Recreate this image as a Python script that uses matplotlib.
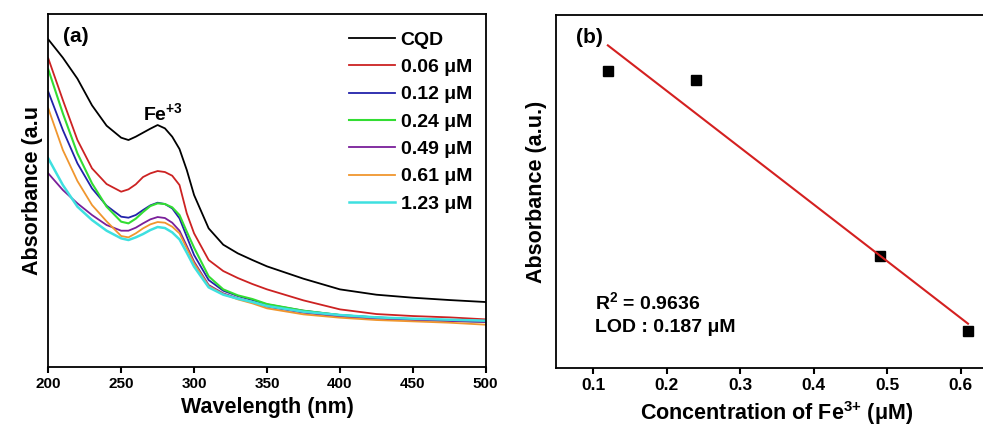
import matplotlib
matplotlib.use('Agg')
import matplotlib.pyplot as plt
import numpy as np

plt.rcParams['font.family'] = ['Liberation Sans', 'DejaVu Sans']
plt.rcParams['font.weight'] = 'bold'
plt.rcParams['mathtext.fontset'] = 'custom'
plt.rcParams['mathtext.bf'] = 'Liberation Sans:bold'
plt.rcParams['mathtext.rm'] = 'Liberation Sans:bold'

# ---------------- data, panel (a) ----------------
wavelength = [200, 210, 220, 230, 240, 250, 255, 260, 265, 270, 275, 280, 285, 290,
              295, 300, 310, 320, 330, 340, 350, 375, 400, 425, 450, 475, 500]

abs_cqd = [0.982, 0.927, 0.864, 0.784, 0.723, 0.687, 0.680, 0.690, 0.702, 0.714, 0.725, 0.715, 0.690, 0.653,
           0.590, 0.515, 0.415, 0.366, 0.340, 0.320, 0.301, 0.264, 0.232, 0.216, 0.207, 0.200, 0.194]
abs_006 = [0.925, 0.800, 0.680, 0.595, 0.548, 0.525, 0.532, 0.547, 0.569, 0.580, 0.587, 0.584, 0.573, 0.545,
           0.460, 0.400, 0.320, 0.287, 0.266, 0.248, 0.232, 0.199, 0.172, 0.158, 0.152, 0.148, 0.142]
abs_012 = [0.825, 0.710, 0.610, 0.535, 0.483, 0.450, 0.447, 0.455, 0.470, 0.484, 0.492, 0.488, 0.475, 0.445,
           0.390, 0.335, 0.260, 0.228, 0.212, 0.200, 0.187, 0.168, 0.155, 0.148, 0.143, 0.140, 0.137]
abs_024 = [0.892, 0.760, 0.640, 0.550, 0.480, 0.435, 0.430, 0.444, 0.464, 0.482, 0.490, 0.488, 0.478, 0.455,
           0.405, 0.357, 0.271, 0.232, 0.214, 0.203, 0.188, 0.168, 0.155, 0.147, 0.142, 0.138, 0.135]
abs_049 = [0.580, 0.530, 0.490, 0.455, 0.425, 0.408, 0.408, 0.417, 0.430, 0.442, 0.449, 0.446, 0.432, 0.408,
           0.362, 0.315, 0.245, 0.220, 0.205, 0.193, 0.180, 0.162, 0.150, 0.144, 0.140, 0.137, 0.134]
abs_061 = [0.775, 0.650, 0.557, 0.485, 0.436, 0.392, 0.388, 0.400, 0.415, 0.427, 0.434, 0.432, 0.420, 0.400,
           0.355, 0.310, 0.242, 0.218, 0.202, 0.190, 0.175, 0.157, 0.147, 0.140, 0.136, 0.132, 0.126]
abs_123 = [0.625, 0.545, 0.480, 0.440, 0.408, 0.385, 0.380, 0.388, 0.398, 0.410, 0.419, 0.416, 0.403, 0.382,
           0.342, 0.300, 0.238, 0.216, 0.204, 0.194, 0.182, 0.165, 0.155, 0.148, 0.144, 0.141, 0.138]

series = [abs_cqd, abs_006, abs_012, abs_024, abs_049, abs_061, abs_123]
labels = ['CQD', '0.06 μM', '0.12 μM', '0.24 μM', '0.49 μM', '0.61 μM', '1.23 μM']
colors = ['black', '#cc2222', '#2222aa', '#33dd33', '#7a1f9a', '#f0962e', '#3ee0e0']
widths = [1.3, 1.3, 1.3, 1.5, 1.3, 1.3, 1.8]

# ---------------- data, panel (b) ----------------
conc = [0.12, 0.24, 0.49, 0.61]
absorb = [0.842, 0.817, 0.316, 0.104]

fig = plt.figure(figsize=(9.83, 4.30), dpi=100)

# panel (a)
ax = fig.add_axes([0.0491, 0.1472, 0.4450, 0.8202])
for y, lab, col, lw in zip(series, labels, colors, widths):
    ax.plot(wavelength, y, color=col, lw=lw, label=lab)
ax.set_xlim(200, 500)
ax.set_ylim(0, 1.058)
ax.set_yticks([])
ax.set_xticks([200, 250, 300, 350, 400, 450, 500])
ax.tick_params(axis='x', labelsize=11, length=4, width=1.5, direction='out')
for s in ax.spines.values():
    s.set_linewidth(1.3)
ax.set_xlabel('Wavelength (nm)', fontsize=15.5, fontweight='bold', labelpad=4)
ax.set_ylabel('Absorbance (a.u', fontsize=15.5, fontweight='bold', labelpad=4)
ax.text(0.033, 0.935, '(a)', transform=ax.transAxes, fontsize=15, fontweight='bold', va='center')
ax.text(265, 0.725, r'Fe$^{\mathbf{+3}}$', fontsize=14, fontweight='bold', va='bottom')
leg = ax.legend(loc='upper right', bbox_to_anchor=(1.0, 0.99), frameon=False, fontsize=14,
                handlelength=2.35, handletextpad=0.3, labelspacing=0.5, borderaxespad=0.3)

# panel (b)
bx = fig.add_axes([0.5653, 0.1442, 0.4486, 0.8209])
bx.plot(conc, absorb, 's', color='black', ms=6.5)
slope, icpt = np.polyfit(conc, absorb, 1)
xfit = np.array([conc[0], conc[-1]])
bx.plot(xfit, slope * xfit + icpt, color='#d42020', lw=1.5)
bx.set_xlim(0.049, 0.649)
bx.set_ylim(0, 1)
bx.set_yticks([])
bx.set_xticks([0.1, 0.2, 0.3, 0.4, 0.5, 0.6])
bx.tick_params(axis='x', labelsize=12.5, length=4, width=1.5, direction='out')
for s in bx.spines.values():
    s.set_linewidth(1.3)
bx.set_xlabel(r'Concentration of Fe$^{\mathbf{3}{+}}$ (μM)', fontsize=15.5, fontweight='bold', labelpad=4)
bx.set_ylabel('Absorbance (a.u.)', fontsize=15.5, fontweight='bold', labelpad=6)
bx.text(0.045, 0.935, '(b)', transform=bx.transAxes, fontsize=15, fontweight='bold', va='center')
bx.text(0.102, 0.185, r'R$^{\mathbf{2}}$ = 0.9636', fontsize=14, fontweight='bold', va='center')
bx.text(0.102, 0.115, 'LOD : 0.187 μM', fontsize=14, fontweight='bold', va='center')

fig.savefig('out.png', dpi=100)
